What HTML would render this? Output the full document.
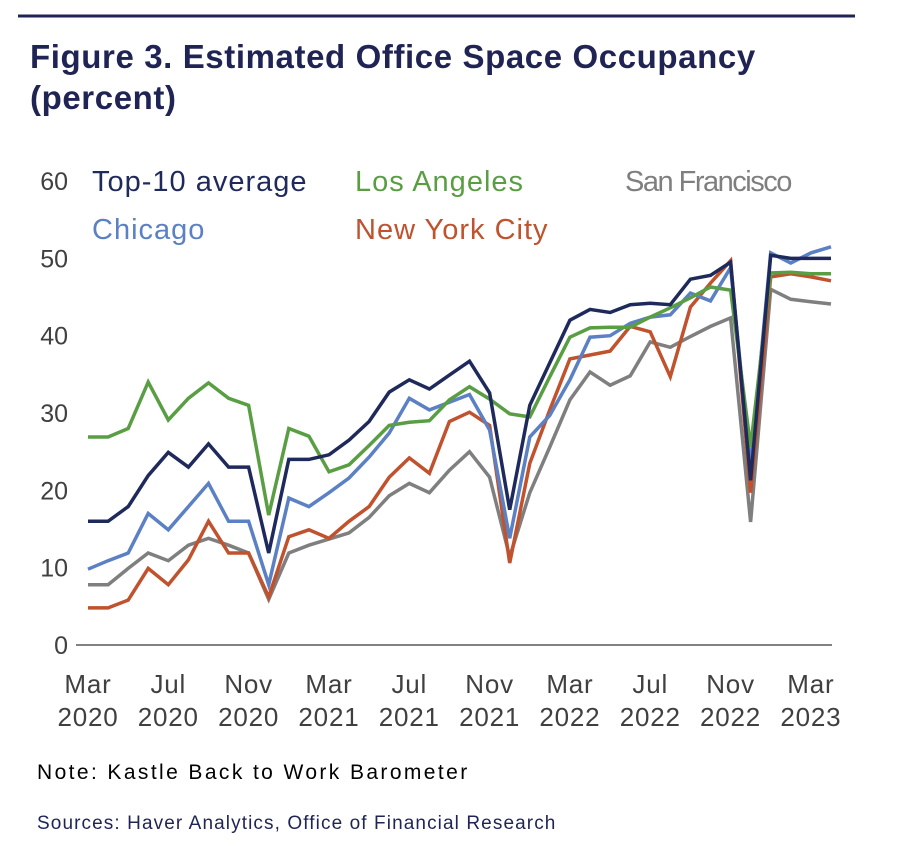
<!DOCTYPE html>
<html><head><meta charset="utf-8">
<style>
body{margin:0;background:#fff;width:908px;height:846px;overflow:hidden;font-family:"Liberation Sans",sans-serif;}
svg{position:absolute;left:0;top:0;}
</style></head>
<body>
<svg id="chart" width="908" height="846">
<line x1="18" y1="16" x2="855" y2="16" stroke="#1f2455" stroke-width="3"/>
<text x="30" y="68" font-size="33" font-weight="bold" fill="#1f2455" letter-spacing="0.6">Figure 3.  Estimated Office Space Occupancy</text>
<text x="30" y="109" font-size="33" font-weight="bold" fill="#1f2455" letter-spacing="0.6">(percent)</text>
<g id="yaxis"></g>
<g id="xaxis"></g>
<g id="series"></g>
<g font-size="29" letter-spacing="1">
<text x="92" y="191" fill="#1f2a5c">Top-10 average</text>
<text x="355" y="191" fill="#5a9e44">Los Angeles</text>
<text x="625" y="191" fill="#7f7f7f" letter-spacing="-1.5">San Francisco</text>
<text x="92" y="239" fill="#5b80c4">Chicago</text>
<text x="355" y="239" fill="#c0522d">New York City</text>
</g>
<text x="37" y="779" font-size="21" fill="#000" letter-spacing="2.4">Note: Kastle Back to Work Barometer</text>
<text x="37" y="829" font-size="19" fill="#1f2455" letter-spacing="1.1">Sources: Haver Analytics, Office of Financial Research</text>
</svg>
<script>
const yTicks=[0,10,20,30,40,50,60];
const xTickIdx=[0,4,8,12,16,20,24,28,32,36];
const xTickMonth=["Mar","Jul","Nov","Mar","Jul","Nov","Mar","Jul","Nov","Mar"];
const xTickYear=["2020","2020","2020","2021","2021","2021","2022","2022","2022","2023"];
const top10=[16,16,17.9,21.9,24.9,23,26,23,23,11.9,24,24,24.6,26.5,28.9,32.7,34.3,33.1,34.9,36.7,32.6,17.5,31,36.5,42,43.4,43,44,44.2,44,47.3,47.8,49.5,21.3,50.4,50,50,50];
const losAngeles=[26.9,26.9,28,34,29.1,31.9,33.9,31.9,31,16.8,28,27,22.4,23.3,25.8,28.4,28.8,29,31.7,33.4,31.8,29.9,29.5,34.7,39.8,41,41.1,41.1,42.4,43.6,44.9,46.3,45.9,25.6,48.1,48.2,48,48];
const sanFrancisco=[7.8,7.8,9.9,11.9,10.9,12.9,13.8,12.9,11.9,5.9,11.9,12.9,13.7,14.5,16.5,19.3,20.9,19.7,22.6,25,21.7,11.4,19.7,25.6,31.7,35.3,33.6,34.8,39.2,38.5,39.9,41.2,42.3,15.9,46,44.7,44.4,44.1];
const chicago=[9.8,10.9,11.9,17,14.9,17.9,20.9,16,16,7.8,19,17.9,19.7,21.6,24.3,27.4,31.9,30.4,31.4,32.4,27.8,13.8,26.9,29.7,34.3,39.8,40,41.6,42.4,42.7,45.5,44.5,48.8,23,50.7,49.4,50.7,51.5];
const newYork=[4.8,4.8,5.8,9.9,7.8,11,16,11.9,11.9,6.2,14,14.9,13.8,16,17.9,21.7,24.2,22.2,28.9,30.1,28.4,10.6,23.5,30.4,37,37.5,38,41.2,40.5,34.7,43.7,46.8,49.7,19.7,47.6,48,47.6,47.1];
const NS="http://www.w3.org/2000/svg";
const x0=88,dx=20.08,yBase=645,pxPerUnit=7.733;
function xs(i){return x0+i*dx;}
function ys(v){return yBase-v*pxPerUnit;}
const yG=document.getElementById('yaxis');
yTicks.forEach(t=>{
  const el=document.createElementNS(NS,'text');
  
  
  el.setAttribute('x',68);el.setAttribute('y',ys(t)+9);
  el.setAttribute('text-anchor','end');el.setAttribute('font-size','25');el.setAttribute('fill','#404040');
  el.textContent=t;yG.appendChild(el);
});
const ax=document.createElementNS(NS,'line');


ax.setAttribute('x1',76);ax.setAttribute('x2',832);ax.setAttribute('y1',yBase);ax.setAttribute('y2',yBase);
ax.setAttribute('stroke','#595959');ax.setAttribute('stroke-width','1.5');
yG.appendChild(ax);
const xG=document.getElementById('xaxis');
xTickIdx.forEach((idx,k)=>{
  [xTickMonth[k],xTickYear[k]].forEach((s,j)=>{
    const el=document.createElementNS(NS,'text');
    
    
    el.setAttribute('x',xs(idx));el.setAttribute('y',j?726:693);
    el.setAttribute('text-anchor','middle');el.setAttribute('font-size','26');el.setAttribute('letter-spacing','0.8');el.setAttribute('fill','#404040');
    el.textContent=s;xG.appendChild(el);
  });
});
const sG=document.getElementById('series');
[[sanFrancisco,'#7f7f7f','line-san-francisco'],[newYork,'#c0522d','line-new-york'],[chicago,'#5b80c4','line-chicago'],[losAngeles,'#5a9e44','line-los-angeles'],[top10,'#1f2a5c','line-top10']].forEach(([d,c,n])=>{
  const p=document.createElementNS(NS,'path');
  
  
  p.setAttribute('d',d.map((v,i)=>(i?'L':'M')+xs(i).toFixed(1)+','+ys(v).toFixed(1)).join(''));
  p.setAttribute('fill','none');p.setAttribute('stroke',c);p.setAttribute('stroke-width','3.5');p.setAttribute('stroke-linejoin','miter');
  sG.appendChild(p);
});
</script>
</body></html>
